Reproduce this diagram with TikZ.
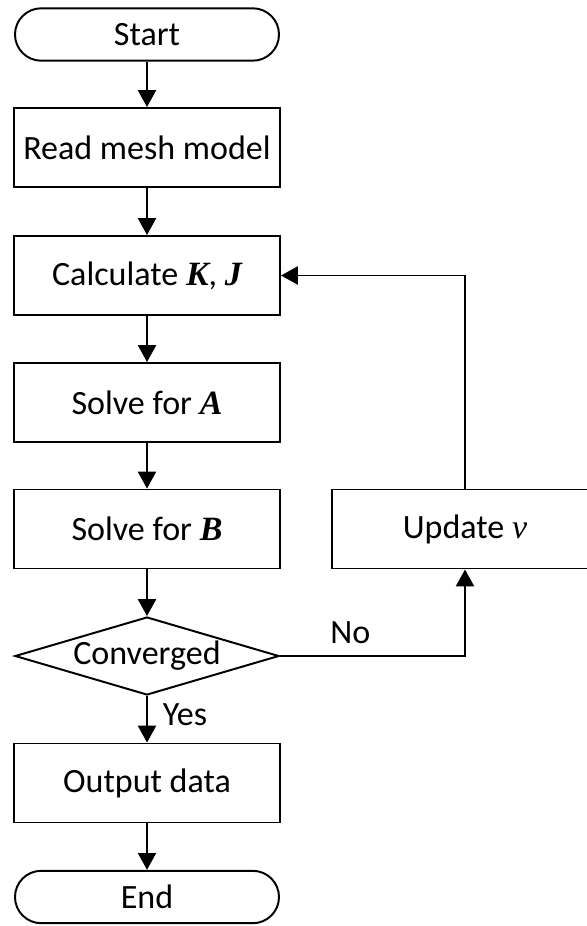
\documentclass[tikz,border=0pt]{standalone}
\usepackage{fontspec}
\setmainfont{Carlito}
\newfontfamily\symfont{Liberation Serif}
\usetikzlibrary{shapes.geometric, arrows.meta, positioning}
\newcommand{\boldvar}[1]{{\symfont\bfseries\itshape #1}}
\newcommand{\slantvar}[1]{{\symfont\itshape #1}}

\begin{document}
\begin{tikzpicture}[
    font=\fontsize{24.2}{29}\selectfont,
    line width=1.4pt,
    terminal/.style={rectangle, draw, rounded corners=0.655cm, minimum width=6.6cm, minimum height=1.31cm, inner sep=0pt},
    process/.style={rectangle, draw, minimum width=6.65cm, minimum height=1.975cm, inner sep=0pt},
    decision/.style={diamond, draw, aspect=3.38, minimum width=6.6cm, minimum height=1.95cm, inner sep=0pt},
    arrow/.style={-{Triangle[length=4.2mm, width=4.5mm]}},
    branch/.style={inner sep=0pt}
]
    \clip (0,0) rectangle (14.675,-23.15);

    % Main column
    \node[terminal] (start) at (3.675, -0.8625) {Start};
    \node[process] (read) at (3.675, -3.6875) {Read mesh model};
    \node[process] (calc) at (3.675, -6.8875) {Calculate \boldvar{K}, \boldvar{J}};
    \node[process] (solvea) at (3.675, -10.0625) {Solve for \boldvar{A}};
    \node[process] (solveb) at (3.675, -13.225) {Solve for \boldvar{B}};
    \node[decision] (conv) at (3.675, -16.4) {Converged};
    \node[process] (output) at (3.675, -19.575) {Output data};
    \node[terminal] (end) at (3.675, -22.425) {End};

    % Iteration branch
    \node[process] (update) at (11.625, -13.225) {Update \slantvar{ν}};

    % Arrows down the main column
    \draw[arrow] (start) -- (read);
    \draw[arrow] (read) -- (calc);
    \draw[arrow] (calc) -- (solvea);
    \draw[arrow] (solvea) -- (solveb);
    \draw[arrow] (solveb) -- (conv);
    \draw[arrow] (conv) -- node[branch, right=0.37cm, pos=0.4] {Yes} (output);
    \draw[arrow] (output) -- (end);

    % Loop back when not converged
    \draw[arrow] (conv.east) -| node[branch, above=0.27cm, pos=0.19] {No} (update.south);
    \draw[arrow] (update.north) |- (calc.east);
\end{tikzpicture}
\end{document}
